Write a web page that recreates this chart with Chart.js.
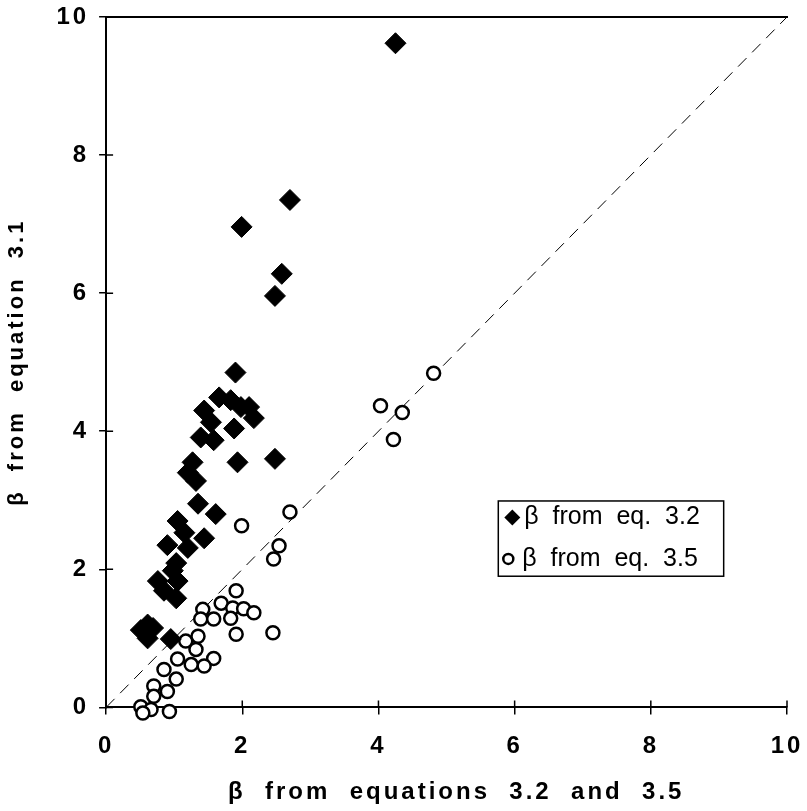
<!DOCTYPE html>
<html>
<head>
<meta charset="utf-8">
<script src="https://cdn.jsdelivr.net/npm/chart.js@4.4.1/dist/chart.umd.min.js"></script>
<style>
  html, body { margin: 0; padding: 0; background: #fff; }
  #wrap { width: 807px; height: 811px; }
</style>
</head>
<body>
<div id="wrap"><canvas id="betaChart"></canvas></div>
<script>
// beta from eq. 3.2 (filled diamonds)
var eq32X = [4.25, 2.7, 1.99, 2.58, 2.48, 1.9, 2.48, 1.93, 1.66, 1.83, 1.44, 2.1, 2.17, 1.98, 1.54, 1.39, 1.58, 1.88,
             1.27, 1.2, 1.32, 1.35, 1.61, 1.05, 1.15, 1.44, 0.9, 1.2, 1.03, 0.98, 0.76, 1.05, 0.85, 1.03, 0.61, 0.51, 0.69, 0.61, 0.95];
var eq32Y = [9.62, 7.35, 6.96, 6.28, 5.96, 4.85, 3.6, 3.55, 4.49, 4.45, 4.3, 4.35, 4.19, 4.35, 4.13, 3.91, 3.87, 4.04,
             3.55, 3.4, 3.28, 2.95, 2.8, 2.7, 2.53, 2.45, 2.35, 2.31, 2.09, 1.98, 1.83, 1.83, 1.69, 1.58, 1.2, 1.12, 1.15, 1.0, 0.99];

// beta from eq. 3.5 (open circles)
var eq35X = [4.81, 4.03, 4.35, 4.22, 2.7, 1.99, 2.54, 2.46, 1.91, 1.69, 1.42, 1.86, 2.02, 2.17, 1.83, 1.39, 1.58, 1.91, 2.45,
             1.17, 1.35, 1.32, 1.58, 1.44, 1.05, 1.25, 0.85, 1.03, 0.7, 0.9, 0.7, 0.51, 0.66, 0.93, 0.54];
var eq35Y = [4.84, 4.37, 4.27, 3.88, 2.83, 2.63, 2.34, 2.15, 1.69, 1.51, 1.42, 1.44, 1.43, 1.37, 1.29, 1.28, 1.28, 1.06, 1.08,
             0.96, 1.03, 0.84, 0.71, 0.6, 0.7, 0.62, 0.55, 0.41, 0.31, 0.23, 0.16, 0.01, -0.03, -0.06, -0.08];

var lineX = [0, 10];
var lineY = [0, 10];

var legendLabels = ['β  from  eq.  3.2', 'β  from  eq.  3.5'];

var fam = "'Liberation Sans', Arial, sans-serif";
var tickFont = { family: fam, size: 24, weight: 'bold' };
var xTitleFont = { family: fam, size: 24, weight: 'bold' };
var yTitleFont = { family: fam, size: 22, weight: 'bold' };

function pts(xs, ys) {
    return xs.map(function (x, i) { return { x: x, y: ys[i] }; });
}

// wide letter spacing like the old plot font
var spacing = {
    id: 'spacing',
    beforeUpdate: function (chart) { chart.ctx.letterSpacing = '3px'; },
    beforeDraw: function (chart) { chart.ctx.letterSpacing = '3px'; }
};

// small tick marks on the inner side of the axes
var innerTicks = {
    id: 'innerTicks',
    afterDraw: function (chart) {
        var c = chart.ctx, xs = chart.scales.x, ys = chart.scales.y, a = chart.chartArea;
        c.save();
        c.strokeStyle = '#000';
        c.lineWidth = 1.5;
        c.beginPath();
        xs.ticks.forEach(function (t) {
            var px = xs.getPixelForValue(t.value);
            c.moveTo(px, a.bottom); c.lineTo(px, a.bottom - 7);
        });
        ys.ticks.forEach(function (t) {
            var py = ys.getPixelForValue(t.value);
            c.moveTo(a.left, py); c.lineTo(a.left + 7, py);
        });
        c.stroke();
        c.restore();
    }
};

// legend box drawn inside the plot
var boxLegend = {
    id: 'boxLegend',
    afterDatasetsDraw: function (chart) {
        var c = chart.ctx;
        var xs = chart.scales.x, ys = chart.scales.y;
        var left = xs.getPixelForValue(5.76), right = xs.getPixelForValue(9.07);
        var top = ys.getPixelForValue(2.99), bottom = ys.getPixelForValue(1.9);
        c.save();
        c.letterSpacing = '0px';
        c.fillStyle = '#fff';
        c.fillRect(left, top, right - left, bottom - top);
        c.strokeStyle = '#000';
        c.lineWidth = 1.5;
        c.strokeRect(left, top, right - left, bottom - top);
        c.fillStyle = '#000';
        c.font = "25px " + fam;
        c.textBaseline = 'middle';
        var r1 = top + (bottom - top) * 0.22, r2 = top + (bottom - top) * 0.77;
        // diamond
        c.beginPath();
        c.moveTo(left + 14, r1 - 8); c.lineTo(left + 22, r1); c.lineTo(left + 14, r1 + 8); c.lineTo(left + 6, r1);
        c.closePath(); c.fill();
        // circle
        c.beginPath();
        c.arc(left + 10, r2, 5, 0, Math.PI * 2);
        c.lineWidth = 2.5;
        c.stroke();
        c.fillText(legendLabels[0], left + 26, r1);
        c.fillText(legendLabels[1], left + 24, r2);
        c.restore();
    }
};

function noXPad(scale) { scale.paddingLeft = 0; scale.paddingRight = 0; }
function noYPad(scale) { scale.paddingTop = 0; scale.paddingBottom = 0; }

var ctx = document.getElementById('betaChart');
var betaChart = new Chart(ctx, {
    type: 'scatter',
    data: {
        datasets: [{
            label: legendLabels[0],
            data: pts(eq32X, eq32Y),
            pointStyle: 'rectRot',
            pointRadius: 10.5,
            backgroundColor: '#000',
            borderColor: '#000',
            borderWidth: 1
        }, {
            label: legendLabels[1],
            data: pts(eq35X, eq35Y),
            pointStyle: 'circle',
            pointRadius: 6.5,
            backgroundColor: '#fff',
            borderColor: '#000',
            borderWidth: 2.5
        }, {
            label: '1:1',
            type: 'line',
            data: pts(lineX, lineY),
            borderColor: '#000',
            borderWidth: 1,
            borderDash: [12, 8],
            pointRadius: 0,
            order: 5
        }]
    },
    options: {
        responsive: true,
        maintainAspectRatio: false,
        animation: false,
        clip: false,
        layout: { padding: { top: 9, right: 20, left: 0, bottom: 0 } },
        plugins: {
            legend: { display: false },
            tooltip: { enabled: false }
        },
        scales: {
            x: {
                type: 'linear',
                min: 0, max: 10,
                afterFit: noXPad,
                ticks: { stepSize: 2, color: '#000', font: tickFont, padding: 18, maxRotation: 0 },
                grid: { display: true, drawOnChartArea: false, color: '#000', tickLength: 7, lineWidth: 1.5 },
                border: { display: true, color: '#000', width: 2 },
                title: { display: true, text: '  β  from  equations  3.2  and  3.5', color: '#000', font: xTitleFont, padding: { top: -1 } }
            },
            xTop: {
                type: 'linear',
                position: 'top',
                min: 0, max: 10,
                afterFit: noXPad,
                ticks: { display: false },
                grid: { display: false },
                border: { display: true, color: '#000', width: 2 }
            },
            y: {
                type: 'linear',
                min: 0, max: 10,
                afterFit: noYPad,
                ticks: { stepSize: 2, color: '#000', font: tickFont, padding: 10 },
                grid: { display: true, drawOnChartArea: false, color: '#000', tickLength: 7, lineWidth: 1.5 },
                border: { display: true, color: '#000', width: 2 },
                title: { display: true, text: 'β  from  equation  3.1', color: '#000', font: yTitleFont, padding: { top: 4, bottom: 16 } }
            }
        }
    },
    plugins: [spacing, innerTicks, boxLegend]
});
</script>
</body>
</html>
